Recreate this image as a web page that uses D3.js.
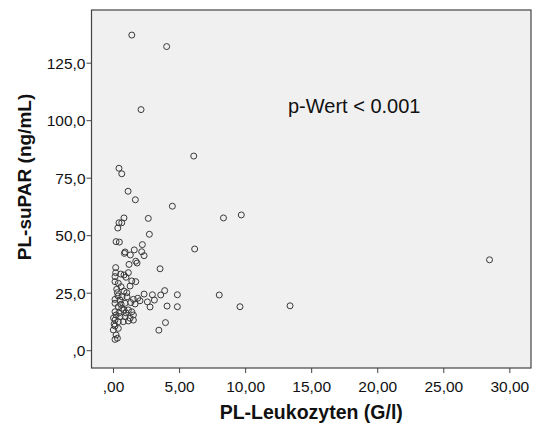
<!DOCTYPE html>
<html>
<head>
<meta charset="utf-8">
<script src="https://cdn.jsdelivr.net/npm/d3@7"></script>
<style>
  body { margin: 0; background: #fff; }
  text { font-family: "Liberation Sans", Arial, sans-serif; }
</style>
</head>
<body>
<div id="chart"></div>
<script>
// PL-Leukozyten (G/l) and PL-suPAR (ng/mL)
var leukozyten = [1.42, 4.06, 2.12, 6.11, 0.45, 0.66, 1.14, 1.69, 4.49, 2.67,
	8.36, 9.71, 0.83, 0.66, 0.45, 0.36, 2.75, 6.18, 0.23, 0.48,
	2.22, 0.91, 0.86, 1.61, 1.31, 2.17, 2.35, 1.72, 1.82, 1.21,
	3.56, 0.20, 3.91, 2.98, 2.35, 3.61, 4.87, 8.04, 13.40, 9.61,
	4.09, 4.87, 2.80, 2.60, 3.13, 3.97, 3.47, 28.5,
	0.20, 0.58, 0.83, 1.16, 0.98, 0.15, 0.15, 0.40, 1.42, 1.72,
	0.61, 1.29, 0.28, 0.83, 1.04, 0.33, 0.15, 0.53, 1.54, 1.87,
	2.04, 1.34, 1.67, 0.91, 0.15, 0.40, 0.66, 1.16, 1.42, 1.54,
	0.15, 0.23, 0.53, 0.91, 1.29, 1.54, 0.15, 0.40, 0.78, 1.16,
	0.15, 0.40, 0.02, 0.23, 0.15, 0.33, 0.38, 0.68, 1.06, 0.83,
	0.45, 0.98, 0.61, 0.04, 0.08];
var suPAR = [137.0, 132.0, 104.6, 84.4, 79.1, 76.7, 69.1, 65.4, 62.6, 57.3,
	57.5, 58.8, 57.5, 55.4, 55.4, 53.1, 50.4, 44.0, 47.2, 47.0,
	45.9, 42.7, 42.1, 43.6, 41.4, 42.8, 41.1, 38.7, 37.9, 37.3,
	35.4, 35.9, 25.9, 24.1, 24.4, 24.0, 24.1, 24.0, 19.3, 18.9,
	19.2, 18.9, 18.8, 21.0, 21.8, 12.0, 8.7, 39.3,
	33.7, 33.1, 32.7, 33.7, 31.7, 32.0, 29.8, 29.1, 30.1, 29.8,
	27.6, 27.9, 26.5, 25.7, 25.0, 25.0, 22.1, 21.8, 22.1, 22.6,
	21.5, 20.7, 20.1, 20.4, 20.4, 18.9, 18.2, 17.5, 16.7, 15.3,
	16.7, 15.3, 14.6, 14.6, 13.9, 13.1, 13.1, 12.4, 12.4, 12.7,
	10.5, 9.5, 8.8, 6.6, 4.7, 5.2, 23.6, 23.2, 23.2, 17.5,
	16.2, 16.2, 20.0, 14.0, 11.4];

var xTicks = [0, 5, 10, 15, 20, 25, 30];
var xTickLabels = [",00", "5,00", "10,00", "15,00", "20,00", "25,00", "30,00"];
var yTicks = [0, 25, 50, 75, 100, 125];
var yTickLabels = [",0", "25,0", "50,0", "75,0", "100,0", "125,0"];

var width = 537;
var height = 427;
// plot frame edges (don't call it "top", that's window.top)
var plotLeft = 91.5, plotRight = 531, plotTop = 10, plotBottom = 368;

var svg = d3.select("#chart")
	.append("svg")
	.attr("width", width)
	.attr("height", height);

var x = d3.scaleLinear().domain([-1.63, 31.64]).range([plotLeft, plotRight]);
var y = d3.scaleLinear().domain([-7.74, 147.9]).range([plotBottom, plotTop]);

// plot background
svg.append("rect")
	.attr("x", plotLeft)
	.attr("y", plotTop)
	.attr("width", plotRight - plotLeft)
	.attr("height", plotBottom - plotTop)
	.style("fill", "#f0f0f0")
	.style("stroke", "none");

var xAxis = d3.axisBottom(x)
	.tickValues(xTicks)
	.tickFormat(function(d, i) { return xTickLabels[i]; })
	.tickSize(5)
	.tickPadding(4)
	.tickSizeOuter(0);

var yAxis = d3.axisLeft(y)
	.tickValues(yTicks)
	.tickFormat(function(d, i) { return yTickLabels[i]; })
	.tickSize(5)
	.tickPadding(1)
	.tickSizeOuter(0);

var gx = svg.append("g")
	.attr("transform", "translate(0," + plotBottom + ")")
	.call(xAxis);
var gy = svg.append("g")
	.attr("transform", "translate(" + plotLeft + ",0)")
	.call(yAxis);

gx.select(".domain").remove();
gy.select(".domain").remove();
svg.selectAll(".tick line").style("stroke", "#444").style("stroke-width", 1);
svg.selectAll(".tick text")
	.style("font-family", "'Liberation Sans', Arial, sans-serif")
	.style("font-size", "15.5px")
	.style("fill", "#111");
gx.selectAll(".tick text").attr("dy", "0.95em");
gy.selectAll(".tick text").attr("dy", "0.35em");

// frame
svg.append("rect")
	.attr("x", plotLeft)
	.attr("y", plotTop)
	.attr("width", plotRight - plotLeft)
	.attr("height", plotBottom - plotTop)
	.style("fill", "none")
	.style("stroke", "#444")
	.style("stroke-width", 1.2);

// points
var points = leukozyten.map(function(d, i) { return { x: d, y: suPAR[i] }; });

svg.append("g")
	.selectAll("circle")
	.data(points)
	.enter().append("circle")
	.attr("cx", function(d) { return x(d.x); })
	.attr("cy", function(d) { return y(d.y); })
	.attr("r", 3)
	.style("fill", "none")
	.style("stroke", "#3a3a3a")
	.style("stroke-width", 1);

// annotation
svg.append("text")
	.attr("x", 288)
	.attr("y", 113)
	.style("font-size", "20px")
	.style("fill", "#111")
	.text("p-Wert < 0.001");

// axis titles
svg.append("text")
	.attr("x", (plotLeft + plotRight) / 2)
	.attr("y", 419)
	.attr("text-anchor", "middle")
	.style("font-size", "19.5px")
	.style("font-weight", "bold")
	.style("fill", "#111")
	.text("PL-Leukozyten (G/l)");

svg.append("text")
	.attr("transform", "translate(31,177) rotate(-90)")
	.attr("text-anchor", "middle")
	.style("font-size", "19px")
	.style("font-weight", "bold")
	.style("fill", "#111")
	.text("PL-suPAR (ng/mL)");
</script>
</body>
</html>
